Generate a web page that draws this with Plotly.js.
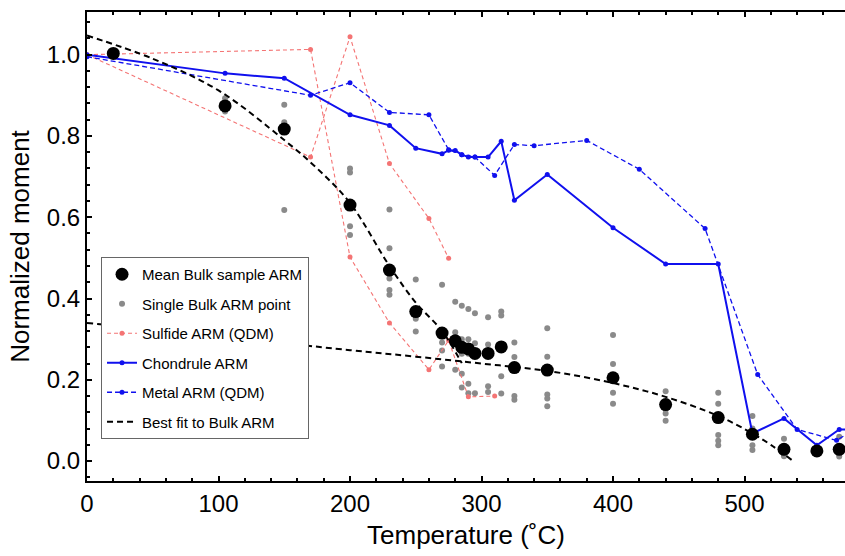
<!DOCTYPE html>
<html>
<head>
<meta charset="utf-8">
<script src="https://cdn.plot.ly/plotly-3.0.1.min.js"></script>
<style>html,body{margin:0;padding:0;background:#fff;}#chart{width:845px;height:556px;}</style>
</head>
<body>
<div id="chart"></div>
<script>
// Mean bulk sample ARM
const meanT = [20, 105, 150, 200, 230, 250, 270, 280, 285, 290, 295, 305, 315, 325, 350, 400, 440, 480, 506, 530, 555, 572];
const meanV = [1.003, 0.874, 0.817, 0.630, 0.470, 0.368, 0.315, 0.296, 0.280, 0.276, 0.265, 0.265, 0.281, 0.230, 0.224, 0.205, 0.139, 0.107, 0.066, 0.029, 0.025, 0.029];

// Single bulk ARM points
const singleT = [105, 105, 150, 150, 150, 200, 200, 200, 200, 230, 230, 230, 230, 230, 250, 250, 250,
  270, 270, 270, 270, 280, 280, 280, 285, 285, 285, 285, 285, 290, 290, 290, 290, 290,
  295, 295, 295, 305, 305, 305, 305, 315, 315, 315, 315, 325, 325, 325, 325,
  350, 350, 350, 350, 350, 400, 400, 400, 400, 440, 440, 440, 440,
  480, 480, 480, 480, 480, 506, 506, 506, 506, 530, 530, 572, 572];
const singleV = [0.893, 0.860, 0.877, 0.834, 0.618, 0.720, 0.710, 0.578, 0.556, 0.619, 0.524, 0.449, 0.421, 0.409, 0.447, 0.350, 0.319,
  0.434, 0.292, 0.272, 0.233, 0.392, 0.317, 0.225, 0.382, 0.300, 0.264, 0.215, 0.181, 0.374, 0.300, 0.264, 0.190, 0.167,
  0.364, 0.290, 0.167, 0.354, 0.287, 0.184, 0.170, 0.368, 0.358, 0.209, 0.166, 0.292, 0.256, 0.160, 0.151,
  0.327, 0.257, 0.164, 0.154, 0.135, 0.310, 0.239, 0.168, 0.141, 0.172, 0.127, 0.117, 0.099,
  0.168, 0.141, 0.064, 0.050, 0.039, 0.111, 0.080, 0.039, 0.027, 0.055, 0.012, 0.060, 0.011];

// Sulfide ARM (QDM): two grain curves, separated by null
const sulfideT = [0, 170, 200, 230, 260, 275, 290, 310, null, 0, 170, 200, 230, 260, 275];
const sulfideV = [1.0, 1.013, 0.502, 0.340, 0.225, 0.297, 0.158, 0.160, null, 1.0, 0.748, 1.044, 0.732, 0.597, 0.499];

// Chondrule ARM
const chondT = [0, 105, 150, 200, 230, 250, 270, 275, 280, 285, 290, 295, 305, 315, 325, 350, 400, 440, 480, 506, 530, 555, 572, 600];
const chondV = [1.0, 0.954, 0.942, 0.852, 0.826, 0.770, 0.756, 0.765, 0.764, 0.754, 0.748, 0.748, 0.748, 0.787, 0.642, 0.705, 0.574, 0.485, 0.485, 0.068, 0.105, 0.039, 0.078, 0.078];

// Metal ARM (QDM)
const metalT = [0, 170, 200, 230, 260, 275, 285, 295, 310, 325, 340, 380, 420, 470, 510, 540, 570, 590];
const metalV = [0.995, 0.900, 0.931, 0.858, 0.852, 0.766, 0.754, 0.748, 0.703, 0.779, 0.776, 0.789, 0.718, 0.572, 0.213, 0.078, 0.051, 0.09];

// Best fit to bulk ARM (two segments)
const fitLowT = [0, 50, 100, 150, 175, 200, 230, 250, 270, 285];
const fitLowV = [1.047, 0.990, 0.912, 0.790, 0.720, 0.635, 0.480, 0.390, 0.320, 0.241];
const fitHighT = [0, 100, 200, 250, 300, 350, 400, 440, 480, 506, 520, 537];
const fitHighV = [0.340, 0.307, 0.273, 0.257, 0.240, 0.222, 0.192, 0.158, 0.111, 0.068, 0.040, 0.0];

const blue = '#1010ee';
const red = '#f47474';
const FONT = 'Liberation Sans, Arial, sans-serif';

const traces = [
  {x: singleT, y: singleV, type: 'scatter', mode: 'markers', name: 'Single Bulk ARM point',
   marker: {color: '#8a8a8a', size: 6}, legendrank: 2, legendgroup: 'b'},
  {x: sulfideT, y: sulfideV, type: 'scatter', mode: 'lines+markers', name: 'Sulfide ARM (QDM)',
   line: {color: red, width: 1.1, dash: '4px,3px'}, marker: {color: red, size: 5}, connectgaps: false,
   legendrank: 3, legendgroup: 'c'},
  {x: metalT, y: metalV, type: 'scatter', mode: 'lines+markers', name: 'Metal ARM (QDM)',
   line: {color: blue, width: 1.3, dash: '5px,3px'}, marker: {color: blue, size: 5},
   legendrank: 5, legendgroup: 'e'},
  {x: chondT, y: chondV, type: 'scatter', mode: 'lines+markers', name: 'Chondrule ARM',
   line: {color: blue, width: 2}, marker: {color: blue, size: 5},
   legendrank: 4, legendgroup: 'd'},
  {x: fitLowT, y: fitLowV, type: 'scatter', mode: 'lines', name: 'Best fit to Bulk ARM',
   line: {color: '#000', width: 2, dash: '6px,4px', shape: 'spline'},
   legendrank: 6, legendgroup: 'f'},
  {x: fitHighT, y: fitHighV, type: 'scatter', mode: 'lines', name: 'Best fit to Bulk ARM', showlegend: false,
   line: {color: '#000', width: 2, dash: '6px,4px', shape: 'spline'}, legendgroup: 'f'},
  {x: meanT, y: meanV, type: 'scatter', mode: 'markers', name: 'Mean Bulk sample ARM',
   marker: {color: '#000', size: 13}, legendrank: 1, legendgroup: 'a'}
];

const layout = {
  width: 845, height: 556,
  margin: {l: 87, r: 0, t: 12, b: 75},
  paper_bgcolor: '#fff', plot_bgcolor: '#fff',
  font: {family: FONT, color: '#000'},
  showlegend: true,
  legend: {x: 0.0185, y: 0.4776, xanchor: 'left', yanchor: 'top',
    bordercolor: '#666', borderwidth: 1, bgcolor: '#fff',
    font: {size: 15, family: FONT}, tracegroupgap: 7, traceorder: 'grouped'},
  xaxis: {
    range: [0, 576.4], showgrid: false, zeroline: false,
    showline: true, linecolor: '#000', linewidth: 2, mirror: 'ticks',
    ticks: 'inside', ticklen: 5, tickwidth: 2, tickcolor: '#000',
    tick0: 0, dtick: 100,
    minor: {dtick: 20, ticks: 'inside', ticklen: 3, tickwidth: 2, tickcolor: '#000'},
    tickfont: {size: 24, family: FONT},
    title: {text: 'Temperature (˚C)', font: {size: 26, family: FONT}, standoff: 10}
  },
  yaxis: {
    range: [-0.049, 1.105], showgrid: false, zeroline: false,
    showline: true, linecolor: '#000', linewidth: 2,
    ticks: 'inside', ticklen: 5, tickwidth: 2, tickcolor: '#000',
    tick0: 0, dtick: 0.2, tickformat: '.1f',
    minor: {dtick: 0.04, ticks: 'inside', ticklen: 3, tickwidth: 2, tickcolor: '#000'},
    tickfont: {size: 24, family: FONT},
    title: {text: 'Normalized moment', font: {size: 26, family: FONT}, standoff: 10}
  }
};

Plotly.newPlot('chart', traces, layout, {displayModeBar: false, staticPlot: true});
</script>
</body>
</html>
